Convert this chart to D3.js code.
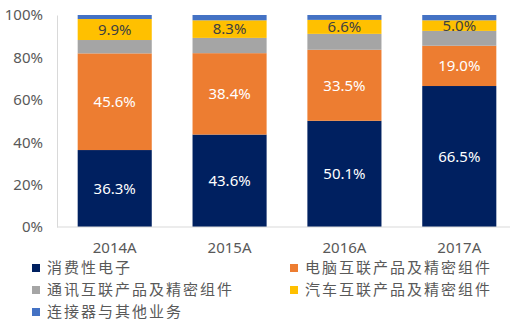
<!DOCTYPE html>
<html><head><meta charset="utf-8">
<script src="https://cdn.jsdelivr.net/npm/d3@7"></script>
<style>body{margin:0;background:#fff}svg{display:block}</style>
</head><body>
<svg id="c" width="520" height="322"></svg>
<script>
const categories = ["2014A","2015A","2016A","2017A"];
const seriesNames = ["消费性电子","电脑互联产品及精密组件","通讯互联产品及精密组件","汽车互联产品及精密组件","连接器与其他业务"];
const consumer = [36.3,43.6,50.1,66.5];
const computer = [45.6,38.4,33.5,19.0];
const telecom = [6.3,7.2,7.5,7.0];
const auto = [9.9,8.3,6.6,5.0];
const other = [1.9,2.5,2.3,2.5];
const labeled = [true,true,false,true,false];
const yTicks = [0,20,40,60,80,100];

const colors = ["#002060","#ED7D31","#A5A5A5","#FFC000","#4472C4"];
const labelColors = ["#ffffff","#ffffff",null,"#404040",null];

const seriesVals = [consumer,computer,telecom,auto,other];
const rows = categories.map((c,i)=>{const o={cat:c};seriesNames.forEach((s,j)=>o[s]=seriesVals[j][i]);return o;});
const stack = d3.stack().keys(seriesNames)(rows);

const svg = d3.select("#c");
const x = d3.scaleBand().domain(categories).range([57,517]).paddingInner(0.355).paddingOuter(0.18);
const y = d3.scaleLinear().domain([0,100]).range([227,15]);
const font = "'Noto Sans','Noto Sans CJK SC',sans-serif";

// axes
const ya = svg.append("g").attr("transform","translate(57,0)").call(d3.axisLeft(y).tickValues(yTicks).tickFormat(d=>d+"%").tickSize(0).tickPadding(14));
ya.select(".domain").attr("stroke","#d9d9d9");
ya.selectAll("text").attr("font-family",font).attr("font-size",15).attr("fill","#595959");

stack.forEach((layer,j)=>{
  svg.append("g").selectAll("rect").data(layer).join("rect")
    .attr("x",d=>x(d.data.cat)).attr("width",x.bandwidth())
    .attr("y",d=>y(d[1])).attr("height",d=>y(d[0])-y(d[1]))
    .attr("fill",colors[j]);
  if(labeled[j]){
    svg.append("g").selectAll("text").data(layer).join("text")
      .attr("x",d=>x(d.data.cat)+x.bandwidth()/2)
      .attr("y",d=>(y(d[0])+y(d[1]))/2)
      .attr("dy","0.36em").attr("text-anchor","middle")
      .attr("font-family",font).attr("font-size",15)
      .attr("fill",labelColors[j])
      .text(d=>(d[1]-d[0]).toFixed(1)+"%");
  }
});

const xa = svg.append("g").attr("transform","translate(0,227)").call(d3.axisBottom(x).tickSize(0).tickPadding(15));
xa.select(".domain").attr("stroke","#d9d9d9").attr("d","M57,0H510");
xa.selectAll("text").attr("font-family",font).attr("font-size",15).attr("fill","#595959");

// legend
const legendPos = [[32,268],[290,268],[32,290],[290,290],[32,312]];
seriesNames.forEach((s,j)=>{
  const [lx,ly]=legendPos[j];
  svg.append("rect").attr("x",lx).attr("y",ly-4).attr("width",8).attr("height",8).attr("fill",colors[j]);
  svg.append("text").attr("x",lx+15).attr("y",ly).attr("dy","0.36em")
    .attr("font-family","'Noto Sans CJK SC',sans-serif").attr("font-size",15)
    .attr("letter-spacing",2).attr("fill","#595959").text(s);
});
</script>
</body></html>
